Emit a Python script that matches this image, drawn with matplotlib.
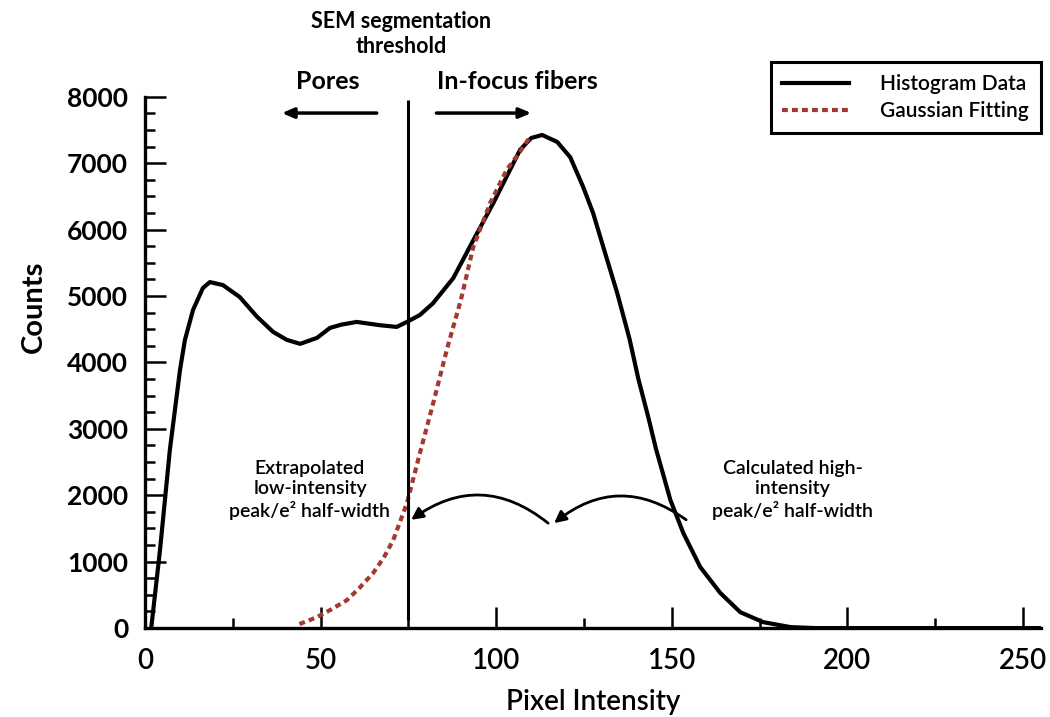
import matplotlib.pyplot as plt
from matplotlib.patches import FancyArrowPatch
from matplotlib.ticker import MultipleLocator

plt.rcParams['font.family'] = ['Lato', 'DejaVu Sans']

# histogram curve
hist_x = [1.8, 4.3, 7.1, 10, 11.4, 13.7, 16.5, 18.5, 22.2, 27, 31.9, 36.5,
          40.4, 44.2, 49, 52.7, 56, 60.3, 67, 71.7, 74.6, 78.3, 82, 87.8,
          93.5, 99.2, 103, 106.8, 110, 113.1, 117.4, 121.1, 124.8, 127.6,
          130.5, 134.5, 138, 140.5, 143.3, 145.5, 149.6, 153.3, 158.1, 163.8,
          169.5, 176, 183.8, 191, 255]
hist_y = [0, 1175, 2680, 3890, 4340, 4790, 5120, 5210, 5165, 4985, 4690, 4460,
          4340, 4280, 4370, 4520, 4570, 4610, 4560, 4535, 4610, 4715, 4890,
          5270, 5840, 6400, 6800, 7200, 7380, 7425, 7320, 7090, 6640, 6250,
          5740, 5040, 4350, 3750, 3180, 2700, 1930, 1430, 920, 530, 240, 90,
          15, 0, 0]

# gaussian fit (dotted)
fit_x = [44, 49, 53, 57.5, 61, 65, 68, 70.7, 74.6, 78.3, 82.1, 86, 90, 93.5,
         98.3, 103, 106.5, 109.7]
fit_y = [60, 165, 280, 420, 600, 830, 1060, 1325, 1880, 2635, 3390, 4200,
         4950, 5740, 6400, 6900, 7150, 7400]

threshold = 75
x_ticks = [0, 50, 100, 150, 200, 250]
y_ticks = [0, 1000, 2000, 3000, 4000, 5000, 6000, 7000, 8000]

fig = plt.figure(figsize=(10.5, 7.17), dpi=100)
ax = fig.add_axes([0.138, 0.124, 0.853, 0.741])

ax.plot(hist_x, hist_y, color='black', lw=3, label='Histogram Data',
        solid_joinstyle='round')
ax.plot(fit_x, fit_y, color='#a33a30', lw=3, ls=(0, (1.4, 1.0)),
        label='Gaussian Fitting')
ax.vlines(threshold, 120, 7950, color='black', lw=2.2)

ax.set_xlim(0, 255)
ax.set_ylim(0, 8000)
ax.set_xticks(x_ticks)
ax.set_yticks(y_ticks)
ax.xaxis.set_minor_locator(MultipleLocator(25))
ax.yaxis.set_minor_locator(MultipleLocator(250))
for s in ['top', 'right']:
    ax.spines[s].set_visible(False)
for s in ['left', 'bottom']:
    ax.spines[s].set_linewidth(2.4)
ax.tick_params(which='major', direction='in', length=15, width=1.8)
ax.tick_params(which='minor', direction='in', length=7.5, width=1.8)
ax.tick_params(axis='y', labelsize=19, pad=12)
ax.tick_params(axis='x', labelsize=20, pad=14)
for t in ax.get_yticklabels():
    t.set_fontweight('bold')
for t in ax.get_xticklabels():
    t.set_fontweight('semibold')

ax.set_xlabel('Pixel Intensity', fontsize=20, fontweight='semibold', labelpad=11)
ax.set_ylabel('Counts', fontsize=21, fontweight='bold')
ax.yaxis.set_label_coords(-0.11, 0.605)

# header text and arrows above the plot
ax.text(73, 8950, 'SEM segmentation\nthreshold', ha='center', va='center',
        fontsize=15.5, fontweight='bold', linespacing=1.25, clip_on=False)
ax.text(52, 8230, 'Pores', ha='center', va='center', fontsize=18,
        fontweight='bold', clip_on=False)
ax.text(106, 8230, 'In-focus fibers', ha='center', va='center', fontsize=18,
        fontweight='bold', clip_on=False)
ax.annotate('', xy=(39, 7755), xytext=(66, 7755),
            arrowprops=dict(arrowstyle='-|>,head_length=0.7,head_width=0.3',
                            color='black', lw=2.5, shrinkA=0, shrinkB=0))
ax.annotate('', xy=(110, 7755), xytext=(83, 7755),
            arrowprops=dict(arrowstyle='-|>,head_length=0.7,head_width=0.3',
                            color='black', lw=2.5, shrinkA=0, shrinkB=0))

# half-width annotations
ax.text(47, 2080, 'Extrapolated\nlow-intensity\npeak/e² half-width',
        ha='center', va='center', fontsize=14, fontweight='semibold',
        linespacing=1.25)
ax.text(184.5, 2080, 'Calculated high-\nintensity\npeak/e² half-width',
        ha='center', va='center', fontsize=14, fontweight='semibold',
        linespacing=1.25)
for (x0, y0), (x1, y1) in [((114.8, 1580), (75.8, 1630)),
                           ((154.1, 1630), (116.5, 1580))]:
    arc = FancyArrowPatch((x0, y0), (x1, y1),
                          connectionstyle='arc3,rad=0.38',
                          arrowstyle='-|>,head_length=7,head_width=3.5',
                          color='black', lw=2, shrinkA=0, shrinkB=0)
    ax.add_patch(arc)

leg = ax.legend(loc='upper right', bbox_to_anchor=(0.991, 0.913),
                bbox_transform=fig.transFigure, fancybox=False,
                edgecolor='black', framealpha=1, handlelength=3.2,
                borderpad=0.55, labelspacing=0.35, handletextpad=1.5,
                borderaxespad=0,
                prop=dict(size=15, weight='semibold'))
leg.get_frame().set_linewidth(2.2)

fig.savefig('out.png', dpi=100)
